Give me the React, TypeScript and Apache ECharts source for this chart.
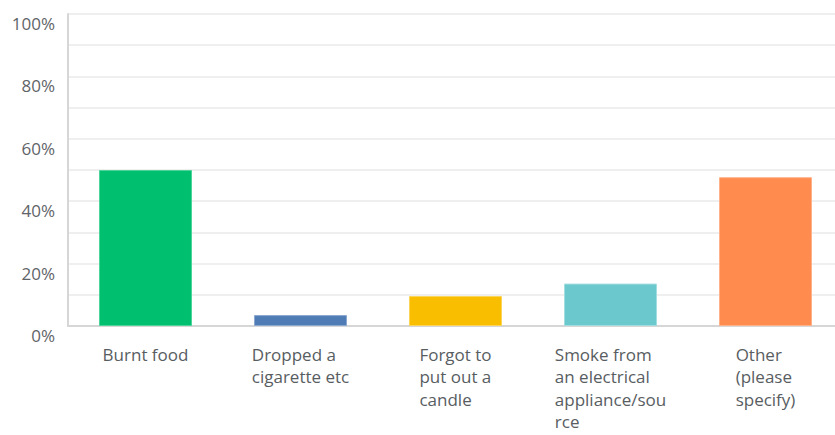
import React, { useEffect, useRef } from "react";
import * as echarts from "echarts";

const categories: string[] = [
  "Burnt food",
  "Dropped a\ncigarette etc",
  "Forgot to\nput out a\ncandle",
  "Smoke from\nan electrical\nappliance/sou\nrce",
  "Other\n(please\nspecify)",
];
const values: number[] = [50.0, 3.5, 9.6, 13.6, 47.7];
const colors: string[] = ["#00BF6F", "#507CB6", "#F9BE00", "#6BC8CD", "#FF8B4F"];
const borders: string[] = ["#4dd49a", "#8aa8d0", "#fbd45a", "#a3dde0", "#ffb28a"];
const yTicks: number[] = [0, 20, 40, 60, 80, 100];

export default function App() {
  const ref = useRef<HTMLDivElement>(null);
  useEffect(() => {
    if (!ref.current) return;
    const chart = echarts.init(ref.current, undefined, { renderer: "svg" });
    chart.setOption({
      animation: false,
      grid: { left: 68, right: 0, top: 14, bottom: 109, containLabel: false },
      xAxis: {
        type: "category",
        data: categories,
        axisLine: { show: true, lineStyle: { color: "#d6d6d6", width: 2 } },
        axisTick: { show: false },
        axisLabel: {
          interval: 0,
          margin: 17,
          align: "center",
          formatter: (v: string) =>
            v
              .split("\n")
              .map((l) => "{a|" + l + "}")
              .join("\n"),
          rich: {
            a: {
              align: "left",
              fontFamily: "Open Sans",
              fontSize: 17,
              lineHeight: 22.5,
              color: "#585d62",
            },
          },
        },
      },
      yAxis: {
        type: "value",
        min: 0,
        max: 100,
        interval: 10,
        axisLine: { show: true, lineStyle: { color: "#d6d6d6", width: 2 } },
        axisTick: { show: false },
        splitLine: { show: true, lineStyle: { color: "#efefef", width: 2 } },
        axisLabel: {
          margin: 13,
          fontFamily: "Open Sans",
          fontSize: 17,
          color: "#5f6468",
          verticalAlign: "top",
          lineHeight: 19,
          formatter: (v: number) => (yTicks.includes(v) ? v + "%" : ""),
        },
      },
      series: [
        {
          type: "bar",
          barWidth: 93,
          data: values.map((v, i) => ({
            value: v,
            itemStyle: { color: colors[i], borderColor: borders[i], borderWidth: 1 },
          })),
        },
      ],
    });
    return () => chart.dispose();
  }, []);
  return (
    <div style={{ position: "fixed", left: 0, top: 0, width: 835, height: 435, overflow: "hidden", background: "#fff" }}>
      <div ref={ref} style={{ width: 843, height: 435 }} />
    </div>
  );
}
